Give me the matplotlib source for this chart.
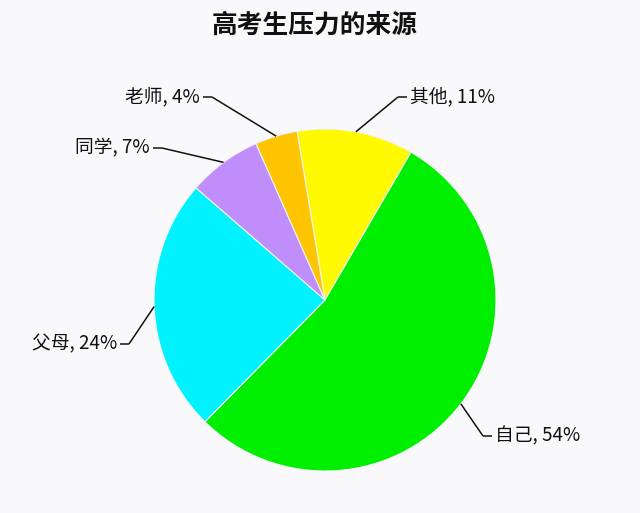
import matplotlib
matplotlib.use("Agg")
import matplotlib.pyplot as plt
import numpy as np

plt.rcParams['font.family'] = ['Noto Sans CJK SC', 'DejaVu Sans']

title = "高考生压力的来源"
categories = ["其他", "自己", "父母", "同学", "老师"]
values = [11, 54, 24, 7, 4]
colors = ["#FFFA00", "#00EE00", "#00F2FF", "#C08EFA", "#FFC400"]

W, H = 640, 513
fig = plt.figure(figsize=(W / 100, H / 100), dpi=100, facecolor="#F9F9FC")
ax = fig.add_axes([0, 0, 1, 1])

cx, cy, r = 325, H - 300, 171
wedges, _ = ax.pie(values, colors=colors, startangle=99.4, counterclock=False,
                   center=(cx, cy), radius=r, frame=True,
                   wedgeprops=dict(edgecolor="#F4F4F8", linewidth=0.8))
ax.set_xlim(0, W)
ax.set_ylim(0, H)
ax.set_aspect("equal")
ax.axis("off")

# label layout: (text x, text y from top, side)
layout = {
    "其他": (410, 97, "left"),
    "自己": (495, 436, "left"),
    "父母": (117, 344, "right"),
    "同学": (150, 148, "right"),
    "老师": (200, 97, "right"),
}

for w, cat, v in zip(wedges, categories, values):
    ang = np.deg2rad((w.theta1 + w.theta2) / 2)
    ax_, ay_ = cx + r * np.cos(ang), cy + r * np.sin(ang)
    tx, ty, side = layout[cat]
    ty = H - ty
    if side == "left":
        h0, h1 = tx - 12, tx - 3
        elbow = h0
    else:
        h0, h1 = tx + 3, tx + 12
        elbow = h1
    ax.plot([ax_, elbow], [ay_, ty], color="#111111", lw=1.1, solid_capstyle="butt")
    ax.plot([h0, h1], [ty, ty], color="#111111", lw=1.1, solid_capstyle="butt")
    ax.text(tx, ty, f"{cat}, {v}%", ha=side, va="center", fontsize=13.5,
            color="#111111")

ax.text(W / 2 - 5, H - 25, title, ha="center", va="center", fontsize=18.5,
        fontweight="bold", color="#111111")

fig.savefig("out.png", dpi=100, facecolor=fig.get_facecolor())
